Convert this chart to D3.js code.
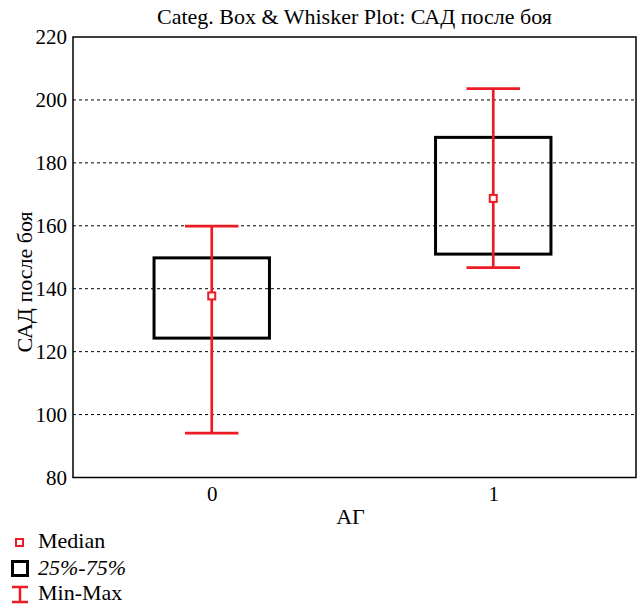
<!DOCTYPE html>
<html>
<head>
<meta charset="utf-8">
<script src="https://cdn.jsdelivr.net/npm/d3@7"></script>
<style>
  body { margin: 0; background: #fff; }
  text { font-family: "Liberation Serif", "Times New Roman", serif; }
</style>
</head>
<body>
<div id="chart"></div>
<script>
var categories = ["0", "1"];
var minVals = [94.1, 146.7];
var q1Vals = [124.3, 151.0];
var medians = [137.7, 168.7];
var q3Vals = [149.8, 188.1];
var maxVals = [159.9, 203.6];
var yTicks = [80, 100, 120, 140, 160, 180, 200, 220];
var legendLabels = ["Median", "25%-75%", "Min-Max"];

var width = 639;
var height = 604;
var plotL = 73, plotR = 636, plotT = 37, plotB = 477.5;
var red = "#ed1c24";

var svg = d3.select("#chart").append("svg")
  .attr("width", width)
  .attr("height", height);

var y = d3.scaleLinear().domain([80, 220]).range([plotB, plotT]);
var x = d3.scalePoint().domain(categories).range([plotL - 2, plotR - 2]).padding(0.5);
var step = x.step();

// grid
svg.append("g").selectAll("line")
  .data(yTicks.slice(1, -1))
  .enter().append("line")
  .attr("x1", plotL).attr("x2", plotR)
  .attr("y1", function(d) { return y(d); })
  .attr("y2", function(d) { return y(d); })
  .attr("stroke", "#000")
  .attr("stroke-width", 1)
  .attr("stroke-dasharray", "3,3");

// frame
svg.append("rect")
  .attr("x", plotL).attr("y", plotT)
  .attr("width", plotR - plotL).attr("height", plotB - plotT)
  .attr("fill", "none")
  .attr("stroke", "#000")
  .attr("stroke-width", 1.5);

// axes
var yAxis = svg.append("g")
  .attr("transform", "translate(" + plotL + ",0)")
  .call(d3.axisLeft(y).tickValues(yTicks).tickSize(0).tickPadding(6));
yAxis.select(".domain").remove();
yAxis.selectAll("text")
  .attr("font-size", 21)
  .attr("fill", "#000")
  .style("font-family", "'Liberation Serif', serif");

var xAxis = svg.append("g")
  .attr("transform", "translate(0," + plotB + ")")
  .call(d3.axisBottom(x).tickSize(0).tickPadding(9));
xAxis.select(".domain").remove();
xAxis.selectAll("text")
  .attr("font-size", 21)
  .attr("fill", "#000")
  .style("font-family", "'Liberation Serif', serif");

// boxes
var boxW = step * 0.41;
var capW = step * 0.19;
var groups = svg.append("g").selectAll("g")
  .data(categories)
  .enter().append("g");

groups.append("rect")
  .attr("x", function(d) { return x(d) - boxW / 2; })
  .attr("y", function(d, i) { return y(q3Vals[i]); })
  .attr("width", boxW)
  .attr("height", function(d, i) { return y(q1Vals[i]) - y(q3Vals[i]); })
  .attr("fill", "none")
  .attr("stroke", "#000")
  .attr("stroke-width", 3);

groups.append("line")
  .attr("x1", function(d) { return x(d); })
  .attr("x2", function(d) { return x(d); })
  .attr("y1", function(d, i) { return y(minVals[i]); })
  .attr("y2", function(d, i) { return y(maxVals[i]); })
  .attr("stroke", red).attr("stroke-width", 2.7);

groups.append("line")
  .attr("x1", function(d) { return x(d) - capW / 2; })
  .attr("x2", function(d) { return x(d) + capW / 2; })
  .attr("y1", function(d, i) { return y(minVals[i]); })
  .attr("y2", function(d, i) { return y(minVals[i]); })
  .attr("stroke", red).attr("stroke-width", 2.7);

groups.append("line")
  .attr("x1", function(d) { return x(d) - capW / 2; })
  .attr("x2", function(d) { return x(d) + capW / 2; })
  .attr("y1", function(d, i) { return y(maxVals[i]); })
  .attr("y2", function(d, i) { return y(maxVals[i]); })
  .attr("stroke", red).attr("stroke-width", 2.7);

groups.append("rect")
  .attr("x", function(d) { return x(d) - 3.5; })
  .attr("y", function(d, i) { return y(medians[i]) - 3.5; })
  .attr("width", 7).attr("height", 7)
  .attr("fill", "#fff")
  .attr("stroke", red).attr("stroke-width", 2);

// titles
svg.append("text")
  .attr("x", (plotL + plotR) / 2)
  .attr("y", 24)
  .attr("text-anchor", "middle")
  .attr("font-size", 22)
  .text("Categ. Box & Whisker Plot: САД после боя");

svg.append("text")
  .attr("x", (plotL + plotR) / 2 - 4)
  .attr("y", 524)
  .attr("text-anchor", "middle")
  .attr("font-size", 22)
  .text("АГ");

svg.append("text")
  .attr("transform", "rotate(-90)")
  .attr("x", -282)
  .attr("y", 32)
  .attr("text-anchor", "middle")
  .attr("font-size", 22)
  .text("САД после боя");

// legend
var legend = svg.append("g");
var legY = [548, 575, 600];

legend.append("rect")
  .attr("x", 16).attr("y", 539)
  .attr("width", 7).attr("height", 7)
  .attr("fill", "#fff")
  .attr("stroke", red).attr("stroke-width", 2);

legend.append("rect")
  .attr("x", 12.5).attr("y", 561.5)
  .attr("width", 15).attr("height", 14)
  .attr("fill", "none")
  .attr("stroke", "#000").attr("stroke-width", 3);

legend.append("path")
  .attr("d", "M12,587 L28,587 M20,587 L20,602 M12,602 L28,602")
  .attr("fill", "none")
  .attr("stroke", red).attr("stroke-width", 2.5);

legend.selectAll("text.leg")
  .data(legendLabels)
  .enter().append("text")
  .attr("class", "leg")
  .attr("x", 38)
  .attr("y", function(d, i) { return legY[i]; })
  .attr("font-size", 22)
  .attr("font-style", function(d, i) { return i == 1 ? "italic" : "normal"; })
  .text(function(d) { return d; });
</script>
</body>
</html>
